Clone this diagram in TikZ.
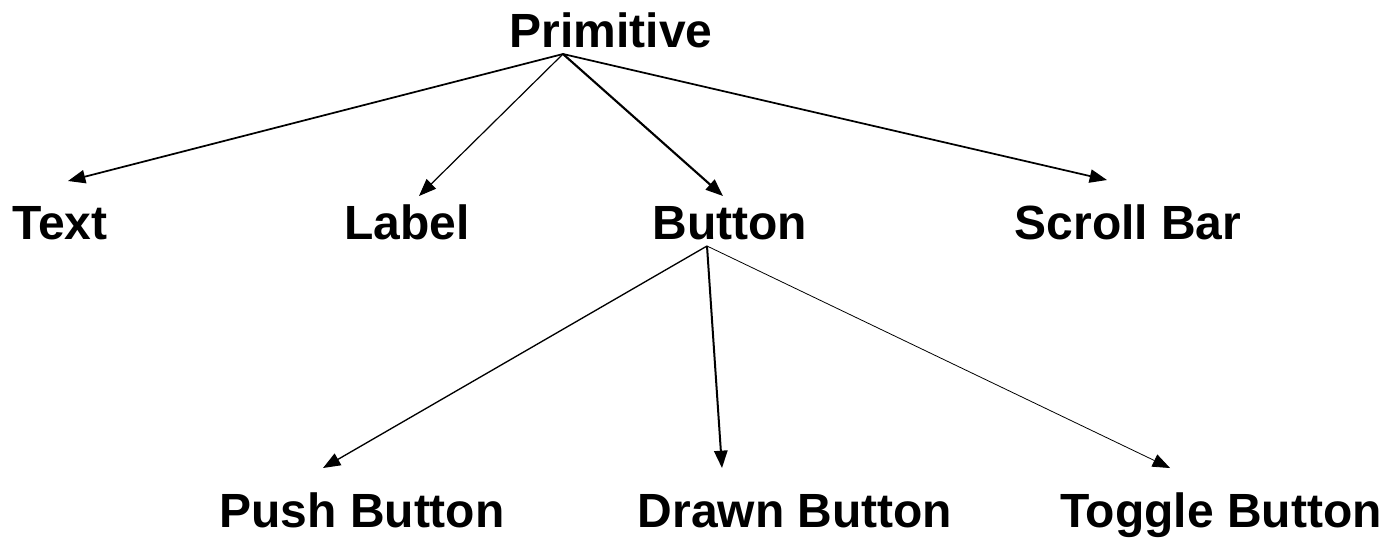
\documentclass[tikz,border=0pt]{standalone}
\usepackage{fontspec}
\setmainfont{Liberation Sans}
\usetikzlibrary{arrows.meta}

\begin{document}
\begin{tikzpicture}[x=0.75pt, y=-0.75pt, >={Triangle[length=13pt,width=10pt]},
  class/.style={anchor=base, inner sep=0pt, font=\fontsize{36}{40}\selectfont\bfseries},
  link/.style={->, line width=1.3pt}]

\useasboundingbox (0,0) rectangle (1392,537);

% Class names
\node[class] (prim)   at (611,47)  {Primitive};
\node[class] (text)   at (60,239)  {Text};
\node[class] (label)  at (407,239) {Label};
\node[class] (button) at (730,239) {Button};
\node[class] (scroll) at (1128,239) {Scroll Bar};
\node[class] (push)   at (362,527) {Push Button};
\node[class] (drawn)  at (795,527) {Drawn Button};
\node[class] (toggle) at (1221,527) {Toggle Button};

% Where the links leave and meet the names
\coordinate (prim-out)   at (563,54);
\coordinate (button-out) at (707,246);
\coordinate (text-in)    at (68,181);
\coordinate (label-in)   at (419,196);
\coordinate (button-in)  at (723,196);
\coordinate (scroll-in)  at (1107,180);
\coordinate (push-in)    at (323,468);
\coordinate (drawn-in)   at (722,468);
\coordinate (toggle-in)  at (1170,468);

% First level
\draw[link] (prim-out) -- (text-in);
\draw[link, line width=0.9pt] (prim-out) -- (label-in);
\draw[link, line width=1.6pt] (prim-out) -- (button-in);
\draw[link] (prim-out) -- (scroll-in);

% Second level
\draw[link, line width=1pt] (button-out) -- (push-in);
\draw[link, line width=1.5pt] (button-out) -- (drawn-in);
\draw[link, line width=0.6pt] (button-out) -- (toggle-in);

\end{tikzpicture}
\end{document}
